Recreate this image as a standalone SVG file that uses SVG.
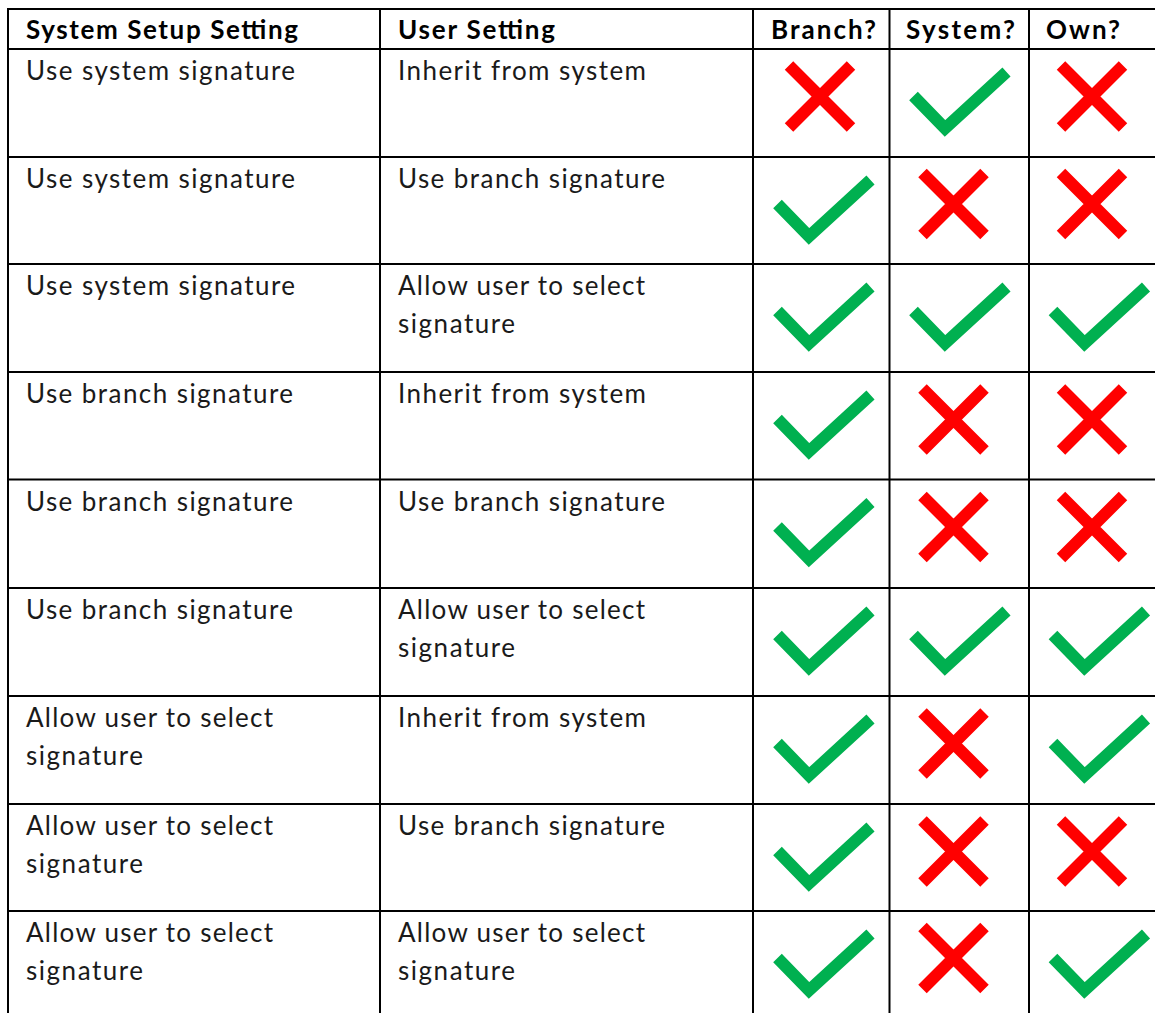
<svg xmlns="http://www.w3.org/2000/svg" xmlns:xlink="http://www.w3.org/1999/xlink" width="1155" height="1013" viewBox="0 0 1155 1013">
<style>
.t{font-family:Lato,"Open Sans","Liberation Sans",sans-serif;font-size:26px;fill:#1a1a1a}
.h{font-family:Lato,"Open Sans","Liberation Sans",sans-serif;font-size:26px;font-weight:bold;fill:#000}
.grid line{stroke:#000;stroke-width:2}
.ok{fill:none;stroke:#00B050;stroke-width:12;stroke-linejoin:miter;stroke-linecap:butt}
.no{fill:none;stroke:#FF0000;stroke-width:12;stroke-linecap:butt}
</style>
<defs>
<path id="chk" class="ok" d="M24,47 L55.5,79.5 L117,23"/>
<path id="crs" class="no" d="M-31,-31 L31,31 M31,-31 L-31,31"/>
</defs>
<rect width="1155" height="1013" fill="#fff"/>
<g id="grid" class="grid">
<line x1="8" y1="9" x2="1155" y2="9"/>
<line x1="8" y1="49" x2="1155" y2="49"/>
<line x1="8" y1="157" x2="1155" y2="157"/>
<line x1="8" y1="264" x2="1155" y2="264"/>
<line x1="8" y1="372" x2="1155" y2="372"/>
<line x1="8" y1="479.5" x2="1155" y2="479.5"/>
<line x1="8" y1="588" x2="1155" y2="588"/>
<line x1="8" y1="696" x2="1155" y2="696"/>
<line x1="8" y1="804" x2="1155" y2="804"/>
<line x1="8" y1="911" x2="1155" y2="911"/>
<line x1="8" y1="8" x2="8" y2="1013"/>
<line x1="380" y1="8" x2="380" y2="1013"/>
<line x1="753" y1="8" x2="753" y2="1013"/>
<line x1="889.5" y1="8" x2="889.5" y2="1013"/>
<line x1="1029" y1="8" x2="1029" y2="1013"/>
</g>
<g id="header">
<text class="h" x="26" y="39" textLength="272" lengthAdjust="spacing">System Setup Setting</text>
<text class="h" x="398" y="39" textLength="157" lengthAdjust="spacing">User Setting</text>
<text class="h" x="771" y="39" textLength="105" lengthAdjust="spacing">Branch?</text>
<text class="h" x="906" y="39" textLength="109" lengthAdjust="spacing">System?</text>
<text class="h" x="1046" y="39" textLength="74" lengthAdjust="spacing">Own?</text>
</g>
<g id="row1">
<text class="t" x="26" y="80" textLength="269" lengthAdjust="spacing">Use system signature</text>
<text class="t" x="398" y="80" textLength="248" lengthAdjust="spacing">Inherit from system</text>
<use xlink:href="#crs" x="820" y="96.5"/>
<use xlink:href="#chk" x="889.5" y="49"/>
<use xlink:href="#crs" x="1092" y="96.5"/>
</g>
<g id="row2">
<text class="t" x="26" y="188" textLength="269" lengthAdjust="spacing">Use system signature</text>
<text class="t" x="398" y="188" textLength="267" lengthAdjust="spacing">Use branch signature</text>
<use xlink:href="#chk" x="753.5" y="157"/>
<use xlink:href="#crs" x="953.5" y="204"/>
<use xlink:href="#crs" x="1092" y="204"/>
</g>
<g id="row3">
<text class="t" x="26" y="295" textLength="269" lengthAdjust="spacing">Use system signature</text>
<text class="t" x="398" y="295" textLength="247" lengthAdjust="spacing">Allow user to select</text>
<text class="t" x="398" y="333" textLength="117" lengthAdjust="spacing">signature</text>
<use xlink:href="#chk" x="753.5" y="264"/>
<use xlink:href="#chk" x="889.5" y="264"/>
<use xlink:href="#chk" x="1029" y="264"/>
</g>
<g id="row4">
<text class="t" x="26" y="403" textLength="267" lengthAdjust="spacing">Use branch signature</text>
<text class="t" x="398" y="403" textLength="248" lengthAdjust="spacing">Inherit from system</text>
<use xlink:href="#chk" x="753.5" y="372"/>
<use xlink:href="#crs" x="953.5" y="419.5"/>
<use xlink:href="#crs" x="1092" y="419.5"/>
</g>
<g id="row5">
<text class="t" x="26" y="510.5" textLength="267" lengthAdjust="spacing">Use branch signature</text>
<text class="t" x="398" y="510.5" textLength="267" lengthAdjust="spacing">Use branch signature</text>
<use xlink:href="#chk" x="753.5" y="479.5"/>
<use xlink:href="#crs" x="953.5" y="527"/>
<use xlink:href="#crs" x="1092" y="527"/>
</g>
<g id="row6">
<text class="t" x="26" y="619" textLength="267" lengthAdjust="spacing">Use branch signature</text>
<text class="t" x="398" y="619" textLength="247" lengthAdjust="spacing">Allow user to select</text>
<text class="t" x="398" y="657" textLength="117" lengthAdjust="spacing">signature</text>
<use xlink:href="#chk" x="753.5" y="588"/>
<use xlink:href="#chk" x="889.5" y="588"/>
<use xlink:href="#chk" x="1029" y="588"/>
</g>
<g id="row7">
<text class="t" x="26" y="727" textLength="247" lengthAdjust="spacing">Allow user to select</text>
<text class="t" x="26" y="765" textLength="117" lengthAdjust="spacing">signature</text>
<text class="t" x="398" y="727" textLength="248" lengthAdjust="spacing">Inherit from system</text>
<use xlink:href="#chk" x="753.5" y="696"/>
<use xlink:href="#crs" x="953.5" y="743.5"/>
<use xlink:href="#chk" x="1029" y="696"/>
</g>
<g id="row8">
<text class="t" x="26" y="835" textLength="247" lengthAdjust="spacing">Allow user to select</text>
<text class="t" x="26" y="873" textLength="117" lengthAdjust="spacing">signature</text>
<text class="t" x="398" y="835" textLength="267" lengthAdjust="spacing">Use branch signature</text>
<use xlink:href="#chk" x="753.5" y="804"/>
<use xlink:href="#crs" x="953.5" y="851.5"/>
<use xlink:href="#crs" x="1092" y="851.5"/>
</g>
<g id="row9">
<text class="t" x="26" y="942" textLength="247" lengthAdjust="spacing">Allow user to select</text>
<text class="t" x="26" y="980" textLength="117" lengthAdjust="spacing">signature</text>
<text class="t" x="398" y="942" textLength="247" lengthAdjust="spacing">Allow user to select</text>
<text class="t" x="398" y="980" textLength="117" lengthAdjust="spacing">signature</text>
<use xlink:href="#chk" x="753.5" y="911"/>
<use xlink:href="#crs" x="953.5" y="958"/>
<use xlink:href="#chk" x="1029" y="911"/>
</g>
</svg>
